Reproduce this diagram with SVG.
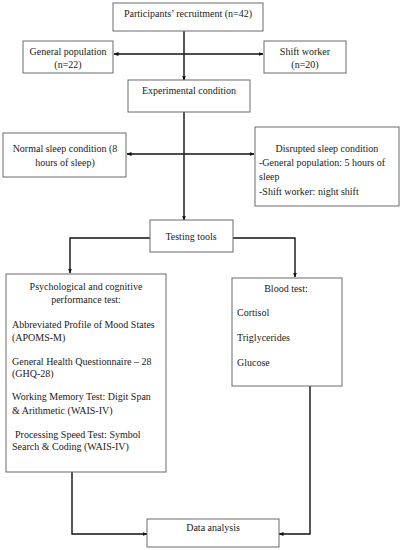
<svg xmlns="http://www.w3.org/2000/svg" width="402" height="550" viewBox="0 0 402 550">
<style>
.box{fill:#fff;stroke:#6b6b6b;stroke-width:1}
.t{font-family:"Liberation Serif","Times New Roman",serif;font-size:10px;fill:#1a1a1a}
.c{text-anchor:middle}
.ln{fill:none;stroke:#111;stroke-width:1.4}
</style>
<defs>
<marker id="ah" viewBox="0 0 10 10" refX="9" refY="5" markerWidth="5" markerHeight="5" orient="auto-start-reverse" markerUnits="userSpaceOnUse">
<path d="M0,1 L10,5 L0,9 Z" fill="#111"/>
</marker>
</defs>
<rect width="402" height="550" fill="#fff"/>
<g id="connectors">
<line class="ln" x1="184" y1="31" x2="184" y2="80" marker-end="url(#ah)"/>
<line class="ln" x1="114" y1="54" x2="263" y2="54" marker-start="url(#ah)" marker-end="url(#ah)"/>
<line class="ln" x1="184" y1="112" x2="184" y2="220" marker-end="url(#ah)"/>
<line class="ln" x1="127" y1="154" x2="254" y2="154" marker-start="url(#ah)" marker-end="url(#ah)"/>
<polyline class="ln" points="150,238 70,238 70,273" marker-end="url(#ah)"/>
<polyline class="ln" points="233,238 295,238 295,277" marker-end="url(#ah)"/>
<polyline class="ln" points="72,472 72,534 147,534" marker-end="url(#ah)"/>
<polyline class="ln" points="310,386 310,534 279,534" marker-end="url(#ah)"/>
</g>
<g id="recruitment">
<rect class="box" x="113" y="3" width="150" height="28"/>
<text class="t c" x="188" y="17">Participants’ recruitment (n=42)</text>
</g>
<g id="general-population">
<rect class="box" x="23" y="41" width="90" height="32"/>
<text class="t c" x="68" y="55">General population</text>
<text class="t c" x="68" y="68">(n=22)</text>
</g>
<g id="shift-worker">
<rect class="box" x="264" y="41" width="82" height="32"/>
<text class="t c" x="305" y="55">Shift worker</text>
<text class="t c" x="305" y="68">(n=20)</text>
</g>
<g id="experimental">
<rect class="box" x="128" y="80" width="122" height="32"/>
<text class="t c" x="189" y="94">Experimental condition</text>
</g>
<g id="normal-sleep">
<rect class="box" x="3" y="133" width="123" height="44"/>
<text class="t c" x="65" y="152">Normal sleep condition (8</text>
<text class="t c" x="65" y="166">hours of sleep)</text>
</g>
<g id="disrupted-sleep">
<rect class="box" x="255" y="127" width="144" height="79"/>
<text class="t c" x="327" y="152">Disrupted sleep condition</text>
<text class="t" x="259" y="166">-General population: 5 hours of</text>
<text class="t" x="259" y="180">sleep</text>
<text class="t" x="259" y="195">-Shift worker: night shift</text>
</g>
<g id="testing-tools">
<rect class="box" x="150" y="220" width="83" height="32"/>
<text class="t c" x="191" y="240">Testing tools</text>
</g>
<g id="psych">
<rect class="box" x="6" y="274" width="160" height="198"/>
<text class="t c" x="86" y="290">Psychological and cognitive</text>
<text class="t c" x="86" y="303">performance test:</text>
<text class="t" x="12" y="328">Abbreviated Profile of Mood States</text>
<text class="t" x="12" y="341">(APOMS-M)</text>
<text class="t" x="12" y="365">General Health Questionnaire – 28</text>
<text class="t" x="12" y="377">(GHQ-28)</text>
<text class="t" x="12" y="400">Working Memory Test: Digit Span</text>
<text class="t" x="12" y="414">&amp; Arithmetic (WAIS-IV)</text>
<text class="t" x="15" y="438">Processing Speed Test: Symbol</text>
<text class="t" x="12" y="450">Search &amp; Coding (WAIS-IV)</text>
</g>
<g id="blood">
<rect class="box" x="232" y="278" width="110" height="108"/>
<text class="t c" x="286" y="292">Blood test:</text>
<text class="t" x="237" y="316">Cortisol</text>
<text class="t" x="237" y="341">Triglycerides</text>
<text class="t" x="237" y="366">Glucose</text>
</g>
<g id="data-analysis">
<rect class="box" x="147" y="519" width="132" height="28"/>
<text class="t c" x="213" y="531">Data analysis</text>
</g>
</svg>
